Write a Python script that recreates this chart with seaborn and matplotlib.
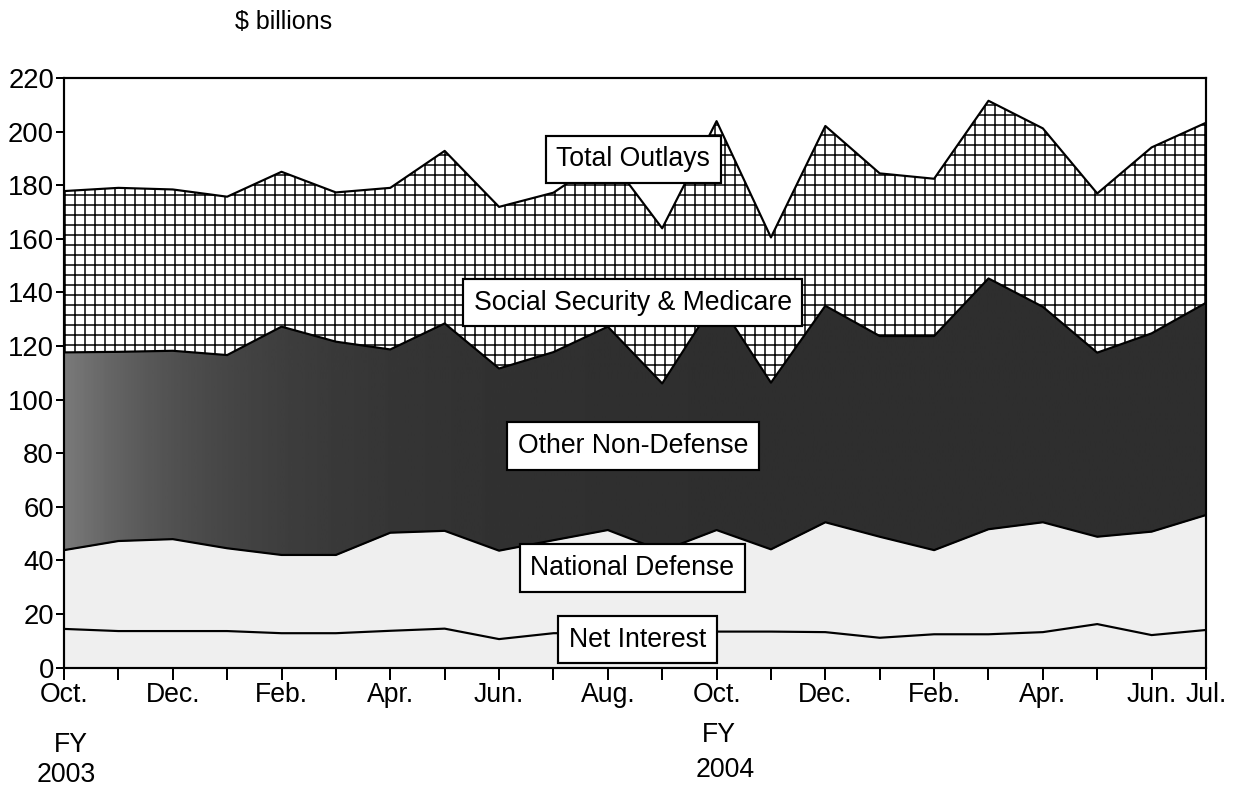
import numpy as np
import pandas as pd
import matplotlib
matplotlib.use("Agg")
import matplotlib.pyplot as plt
import matplotlib.transforms as mtransforms
import seaborn as sns

# monthly outlays, Oct. FY2003 .. Jul. FY2004 ($ billions)
months = ["Oct.", "Nov.", "Dec.", "Jan.", "Feb.", "Mar.", "Apr.", "May", "Jun.", "Jul.", "Aug.", "Sep.",
          "Oct.", "Nov.", "Dec.", "Jan.", "Feb.", "Mar.", "Apr.", "May", "Jun.", "Jul."]
net_interest = [14.4, 13.6, 13.6, 13.6, 12.8, 12.8, 13.7, 14.5, 10.6, 12.8, 12.9,
                13.4, 13.4, 13.4, 13.2, 11.1, 12.4, 12.4, 13.2, 16.2, 12.1, 14.0]
national_defense = [29.4, 33.6, 34.3, 30.9, 29.2, 29.2, 36.6, 36.5, 33.0, 34.7, 38.4,
                    30.1, 37.9, 30.7, 41.0, 37.7, 31.4, 39.2, 41.0, 32.6, 38.6, 42.9]
other_nondefense = [73.8, 70.6, 70.3, 72.1, 85.2, 79.6, 68.4, 77.4, 68.0, 70.2, 75.9,
                    62.5, 86.2, 62.2, 80.8, 74.9, 79.9, 93.6, 80.4, 68.7, 74.0, 79.2]
ss_medicare = [60.2, 61.2, 60.2, 59.1, 57.8, 55.7, 60.3, 64.4, 60.3, 59.5, 63.7,
               57.9, 66.4, 54.2, 67.1, 60.7, 58.7, 66.3, 66.6, 59.4, 69.4, 67.2]

df = pd.DataFrame({
    "idx": np.arange(len(months)),
    "net": net_interest,
    "defense": national_defense,
    "other": other_nondefense,
    "ssm": ss_medicare,
})
df["c1"] = df["net"]
df["c2"] = df["c1"] + df["defense"]
df["c3"] = df["c2"] + df["other"]
df["total"] = df["c3"] + df["ssm"]

sns.set_style("ticks")
plt.rcParams["font.family"] = ["Liberation Sans", "DejaVu Sans"]
plt.rcParams["hatch.linewidth"] = 0.9
plt.rcParams["hatch.color"] = "black"
for key in ["text.color", "xtick.color", "ytick.color", "axes.edgecolor", "axes.labelcolor"]:
    plt.rcParams[key] = "black"

DPI = 120
fig = plt.figure(figsize=(1235 / DPI, 786 / DPI), dpi=DPI)
ax = fig.add_axes([64 / 1235, 1 - 667.5 / 786, (1206 - 64) / 1235, (667.5 - 78) / 786])

x = df["idx"]
ax.fill_between(x, 0, df["c2"], color="#efefef", lw=0, zorder=1)
poly = ax.fill_between(x, df["c2"], df["c3"], color="#333333", lw=0, zorder=1)
ax.fill_between(x, df["c3"], df["total"], facecolor="white", edgecolor="black",
                hatch="++", lw=0, zorder=1)

# lighter shading at the start of the dark band, as in the scan
xs = np.linspace(0, 21, 400)
shade = 0.18 + 0.3 * np.exp(-xs / 2.6)
im = ax.imshow(shade[np.newaxis, :], extent=(0, 21, 0, 220), origin="lower",
               aspect="auto", cmap="gray", vmin=0, vmax=1, zorder=1.5)
im.set_clip_path(poly.get_paths()[0], transform=ax.transData)

for col in ["c1", "c2", "c3", "total"]:
    sns.lineplot(data=df, x="idx", y=col, color="black", lw=1.3, ax=ax, zorder=3)

ax.set_xlim(0, 21)
ax.set_ylim(0, 220)
ax.set_aspect("auto")
ax.set_xlabel("")
ax.set_ylabel("")

ax.set_yticks(range(0, 221, 20))
ax.set_xticks(range(len(months)))
ax.set_xticklabels([m if (i % 2 == 0 or i == len(months) - 1) else ""
                    for i, m in enumerate(months)])
ax.tick_params(axis="x", length=7, width=1.2, pad=2, labelsize=16, direction="out",
               colors="black")
ax.tick_params(axis="y", length=5, width=1.2, pad=1, labelsize=16.5, direction="out",
               colors="black")
for sp in ax.spines.values():
    sp.set_visible(True)
    sp.set_linewidth(1.3)
    sp.set_color("black")
    sp.set_zorder(4)

box = dict(boxstyle="square,pad=0.4", facecolor="white", edgecolor="black", lw=1.3)
labels = [
    ("Total Outlays", 10.47, 189.6),
    ("Social Security & Medicare", 10.46, 136.2),
    ("Other Non-Defense", 10.46, 82.7),
    ("National Defense", 10.45, 37.1),
    ("Net Interest", 10.55, 10.4),
]
for txt, lx, ly in labels:
    ax.text(lx, ly, txt, ha="center", va="center", fontsize=16, color="black",
            bbox=box, zorder=6)

fig.text(235 / 1235, 1 - 22 / 786, "$ billions", ha="left", va="center", fontsize=15,
         color="black")

tr = mtransforms.blended_transform_factory(ax.transData, fig.transFigure)
ax.text(0.12, 1 - 745 / 786, "FY", transform=tr, ha="center", va="center", fontsize=16)
ax.text(0.05, 1 - 775 / 786, "2003", transform=tr, ha="center", va="center", fontsize=16)
ax.text(12.05, 1 - 735 / 786, "FY", transform=tr, ha="center", va="center", fontsize=16)
ax.text(12.15, 1 - 770 / 786, "2004", transform=tr, ha="center", va="center", fontsize=16)

fig.savefig("out.png", dpi=DPI)
